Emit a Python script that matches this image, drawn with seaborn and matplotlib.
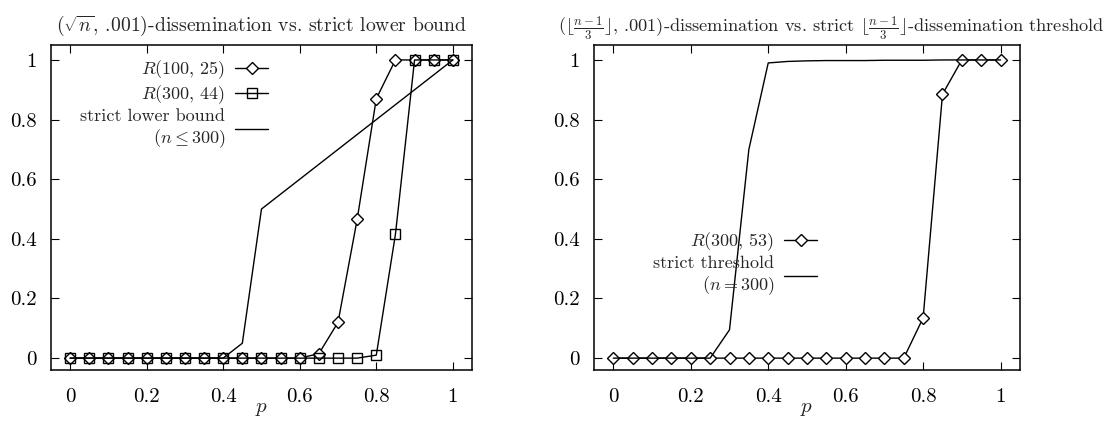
import matplotlib
matplotlib.use("Agg")
import matplotlib.pyplot as plt
import seaborn as sns
import pandas as pd

# ---------------- data ----------------
p = [0.00, 0.05, 0.10, 0.15, 0.20, 0.25, 0.30, 0.35, 0.40, 0.45, 0.50,
     0.55, 0.60, 0.65, 0.70, 0.75, 0.80, 0.85, 0.90, 0.95, 1.00]

r_100_25 = [0, 0, 0, 0, 0, 0, 0, 0, 0, 0, 0,
            0, 0, 0.015, 0.12, 0.465, 0.87, 1.0, 1.0, 1.0, 1.0]
r_300_44 = [0, 0, 0, 0, 0, 0, 0, 0, 0, 0, 0,
            0, 0, 0, 0, 0, 0.01, 0.415, 1.0, 1.0, 1.0]
strict_lower = [0, 0, 0, 0, 0, 0, 0, 0, 0, 0.05, 0.50,
                0.55, 0.60, 0.65, 0.70, 0.75, 0.80, 0.85, 0.90, 0.95, 1.00]

r_300_53 = [0, 0, 0, 0, 0, 0, 0, 0, 0, 0, 0,
            0, 0, 0, 0, 0, 0.135, 0.885, 1.0, 1.0, 1.0]
strict_thresh = [0, 0, 0, 0, 0, 0, 0.095, 0.70, 0.99, 0.995, 0.997,
                 0.998, 0.998, 0.998, 0.999, 0.999, 0.999, 1.0, 1.0, 1.0, 1.0]

xticks = [0, 0.2, 0.4, 0.6, 0.8, 1]
xticklabels = ["0", "0.2", "0.4", "0.6", "0.8", "1"]
yticks = [0, 0.2, 0.4, 0.6, 0.8, 1]
yticklabels = ["0", "0.2", "0.4", "0.6", "0.8", "1"]

title_left = r"$(\sqrt{n}$, .001)-dissemination vs. strict lower bound"
title_right = (r"$(\lfloor\frac{n-1}{3}\rfloor$, .001)-dissemination vs. strict "
               r"$\lfloor\frac{n-1}{3}\rfloor$-dissemination threshold")

lab_r100 = r"$R(100,\,25)$"
lab_r300 = r"$R(300,\,44)$"
lab_lower = "strict lower bound\n" + r"$(n \leq 300)$"
lab_r353 = r"$R(300,\,53)$"
lab_thr = "strict threshold\n" + r"$(n = 300)$"

# ---------------- style ----------------
sns.set_style("ticks")
plt.rcParams["font.family"] = ["cmr10", "DejaVu Serif"]
plt.rcParams["mathtext.fontset"] = "cm"
plt.rcParams["axes.unicode_minus"] = False
plt.rcParams["axes.formatter.use_mathtext"] = True

FS_TICK = 15
FS_LEG = 13
fig = plt.figure(figsize=(11.03, 4.21), dpi=100)
ax1 = fig.add_axes([0.0462, 0.121, 0.3817, 0.772])
ax2 = fig.add_axes([0.5385, 0.121, 0.3862, 0.772])

lw = 1.0
mk_d = dict(marker="D", markersize=6.2, markerfacecolor="white",
            markeredgecolor="black", markeredgewidth=1.0)
mk_s = dict(marker="s", markersize=7.0, markerfacecolor="none",
            markeredgecolor="black", markeredgewidth=1.0)

df = pd.DataFrame({"p": p, "r100": r_100_25, "r300": r_300_44,
                   "lower": strict_lower, "r353": r_300_53,
                   "thr": strict_thresh})

sns.lineplot(data=df, x="p", y="r100", ax=ax1, color="black", lw=lw,
             label=lab_r100, **mk_d)
sns.lineplot(data=df, x="p", y="r300", ax=ax1, color="black", lw=lw,
             label=lab_r300, **mk_s)
sns.lineplot(data=df, x="p", y="lower", ax=ax1, color="black", lw=lw,
             label=lab_lower)

sns.lineplot(data=df, x="p", y="r353", ax=ax2, color="black", lw=lw,
             label=lab_r353, **mk_d)
sns.lineplot(data=df, x="p", y="thr", ax=ax2, color="black", lw=lw,
             label=lab_thr)

for ax in (ax1, ax2):
    ax.set_xlim(-0.05, 1.05)
    ax.set_ylim(-0.04, 1.05)
    ax.set_xticks(xticks)
    ax.set_xticklabels(xticklabels)
    ax.set_yticks(yticks)
    ax.set_yticklabels(yticklabels)
    ax.tick_params(direction="in", top=True, right=True, length=6,
                   width=0.8, labelsize=FS_TICK, colors="black")
    ax.tick_params(axis="x", pad=13)
    ax.tick_params(axis="y", pad=10)
    ax.set_xlabel(r"$p$", fontsize=FS_TICK, labelpad=-4)
    ax.set_ylabel("")
    for s in ax.spines.values():
        s.set_visible(True)
        s.set_color("black")
        s.set_linewidth(1.1)

ax1.set_title(title_left, fontsize=14.2, pad=10)
ax2.set_title(title_right, fontsize=13.2, pad=10, x=0.556)

leg_kw = dict(frameon=False, markerfirst=False, fontsize=FS_LEG,
              handlelength=1.8, handletextpad=0.55, labelspacing=0.15,
              borderpad=0.0, borderaxespad=0.0)
leg1 = ax1.legend(loc="upper right", bbox_to_anchor=(0.515, 0.96), **leg_kw)
leg2 = ax2.legend(loc="upper right", bbox_to_anchor=(0.523, 0.43), **leg_kw)
for leg in (leg1, leg2):
    for t in leg.get_texts():
        t.set_multialignment("right")

fig.savefig("out.png", dpi=100)
